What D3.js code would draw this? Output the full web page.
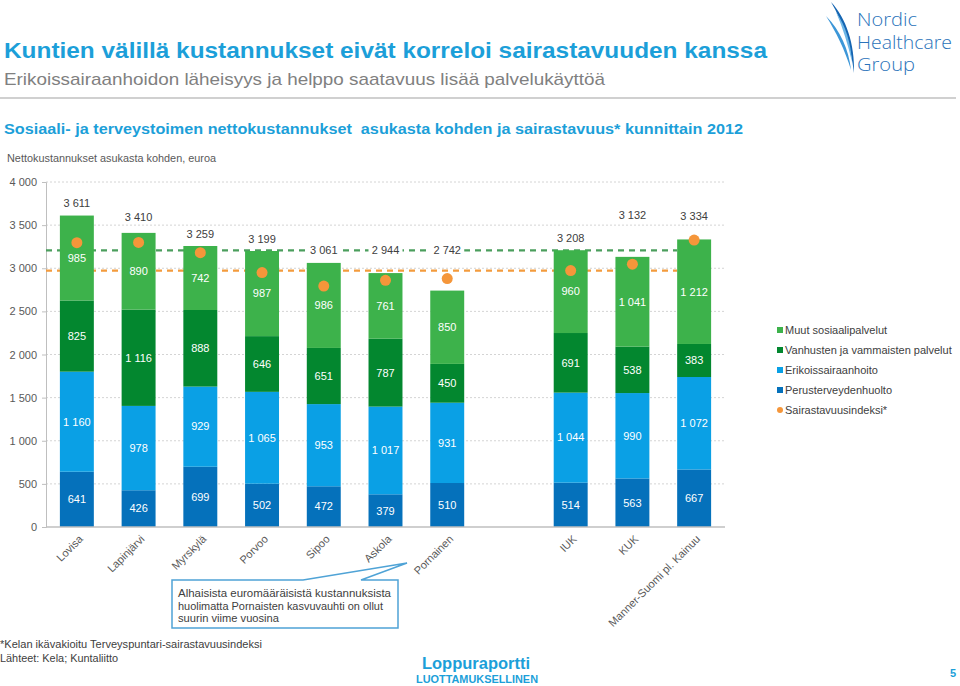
<!DOCTYPE html>
<html><head><meta charset="utf-8">
<script src="https://cdn.jsdelivr.net/npm/d3@7"></script>
<style>
html,body{margin:0;padding:0;background:#fff;}
svg{display:block;font-family:"Liberation Sans",Arial,sans-serif;}
</style></head>
<body>
<svg id="chart" width="960" height="686"></svg>
<script>
// ---------- DATA ----------
const categories = ["Lovisa","Lapinjärvi","Myrskylä","Porvoo","Sipoo","Askola","Pornainen","IUK","KUK","Manner-Suomi pl. Kainuu"];
const perusterveydenhuolto = [641,426,699,502,472,379,510,514,563,667];
const erikoissairaanhoito  = [1160,978,929,1065,953,1017,931,1044,990,1072];
const vanhustenPalvelut    = [825,1116,888,646,651,787,450,691,538,383];
const muutSosiaalipalvelut = [985,890,742,987,986,761,850,960,1041,1212];
const totals               = [3611,3410,3259,3199,3061,2944,2742,3208,3132,3334];
const sairastavuusindeksi  = [98.9,99.0,95.4,88.5,83.8,85.8,86.4,89.2,91.4,99.8];
const yTicks = [0,500,1000,1500,2000,2500,3000,3500,4000];
const seriesNames = ["Perusterveydenhuolto","Erikoissairaanhoito","Vanhusten ja vammaisten palvelut","Muut sosiaalipalvelut"];
const legendNames = ["Muut sosiaalipalvelut","Vanhusten ja vammaisten palvelut","Erikoissairaanhoito","Perusterveydenhuolto","Sairastavuusindeksi*"];
const referenceCategory = "IUK";

// ---------- STYLE ----------
const colors = {
  "Perusterveydenhuolto":"#0571BB",
  "Erikoissairaanhoito":"#0AA0E5",
  "Vanhusten ja vammaisten palvelut":"#03872F",
  "Muut sosiaalipalvelut":"#3DB24B"
};
const dotColor = "#F5963A";
const blue = "#1C9FD9";
const textGrey = "#595959";

const svg = d3.select("#chart");
const fmt = d3.formatLocale({decimal:",",thousands:"\u00a0",grouping:[3],currency:["","€"]}).format(",d");

// ---------- HEADER ----------
svg.append("text").attr("x",4).attr("y",58).attr("font-size",22).attr("font-weight","bold")
  .attr("fill",blue).attr("textLength",763).attr("lengthAdjust","spacingAndGlyphs")
  .text("Kuntien välillä kustannukset eivät korreloi sairastavuuden kanssa");
svg.append("text").attr("x",4).attr("y",85).attr("font-size",17).attr("fill","#808080")
  .attr("textLength",601).attr("lengthAdjust","spacingAndGlyphs")
  .text("Erikoissairaanhoidon läheisyys ja helppo saatavuus lisää palvelukäyttöä");
svg.append("rect").attr("x",0).attr("y",97).attr("width",956).attr("height",2).attr("fill","#D0D0D0");
svg.append("text").attr("x",4).attr("y",134).attr("font-size",14.5).attr("font-weight","bold")
  .attr("fill",blue).attr("textLength",739).attr("lengthAdjust","spacingAndGlyphs")
  .attr("xml:space","preserve")
  .text("Sosiaali- ja terveystoimen nettokustannukset\u00a0 asukasta kohden ja sairastavuus* kunnittain 2012");
svg.append("text").attr("x",7).attr("y",162).attr("font-size",10.5).attr("fill",textGrey)
  .attr("textLength",209).attr("lengthAdjust","spacingAndGlyphs")
  .text("Nettokustannukset asukasta kohden, euroa");

// Logo
const logo = svg.append("g");
logo.append("path").attr("d","M831,2 C846,18 855,44 854,73 C851,47 843,22 831,2 Z").attr("fill","#1565B2");
logo.append("path").attr("d","M826,16 C840,30 849,50 851,70 C845,50 836,32 826,16 Z").attr("fill","#3D97D8");
logo.append("path").attr("d","M836,12 C846,26 851,44 852,62 C848,45 843,28 836,12 Z").attr("fill","#6DB6E6");
["Nordic","Healthcare","Group"].forEach((t,i)=>{
  logo.append("text").attr("x",857).attr("y",26+i*22.5).attr("font-size",18.5).attr("fill","#2A73BA")
    .attr("font-family","'Open Sans','Liberation Sans',sans-serif").attr("font-weight",300)
    .attr("textLength",[60,95,58][i]).attr("lengthAdjust","spacingAndGlyphs").text(t);
});

// ---------- CHART ----------
const plotLeft = 46, plotRight = 725, plotTop = 182, plotBottom = 527;
const domain = categories.slice(0,7).concat(["__gap"]).concat(categories.slice(7));
const x = d3.scaleBand().domain(domain).range([plotLeft,plotRight]).paddingInner(0.45).paddingOuter(0.225);
const y = d3.scaleLinear().domain([0,4000]).range([plotBottom,plotTop]);
const ySec = d3.scaleLinear().domain([0,120]).range([plotBottom,plotTop]);

// gridlines
svg.append("g").selectAll("line").data(yTicks.filter(d=>d>0)).join("line")
  .attr("x1",plotLeft).attr("x2",plotRight).attr("y1",d=>y(d)).attr("y2",d=>y(d))
  .attr("stroke","#D4D4D4").attr("stroke-width",1).attr("stroke-dasharray","2,2");

// y axis
const yAxis = svg.append("g").attr("transform",`translate(${plotLeft},0)`)
  .call(d3.axisLeft(y).tickValues(yTicks).tickFormat(fmt).tickSize(4).tickPadding(5));
yAxis.select(".domain").attr("stroke","#BFBFBF");
yAxis.selectAll(".tick line").attr("stroke","#BFBFBF");
yAxis.selectAll("text").attr("font-size",11).attr("fill",textGrey).attr("font-family","'Liberation Sans',Arial,sans-serif");

// reference dashed lines (IUK level)
const refIdx = categories.indexOf(referenceCategory);
const lastX = x(categories[categories.length-1]);
svg.append("line").attr("x1",plotLeft).attr("x2",lastX)
  .attr("y1",y(totals[refIdx])).attr("y2",y(totals[refIdx]))
  .attr("stroke","#4B9E5D").attr("stroke-width",2.2).attr("stroke-dasharray","6,5");
svg.append("line").attr("x1",plotLeft).attr("x2",lastX)
  .attr("y1",ySec(sairastavuusindeksi[refIdx])).attr("y2",ySec(sairastavuusindeksi[refIdx]))
  .attr("stroke","#F39B3D").attr("stroke-width",2.2).attr("stroke-dasharray","6,5");

// stacked bars
const rows = categories.map((c,i)=>({
  cat:c,
  "Perusterveydenhuolto":perusterveydenhuolto[i],
  "Erikoissairaanhoito":erikoissairaanhoito[i],
  "Vanhusten ja vammaisten palvelut":vanhustenPalvelut[i],
  "Muut sosiaalipalvelut":muutSosiaalipalvelut[i]
}));
const stacked = d3.stack().keys(seriesNames)(rows);
const layers = svg.append("g").selectAll("g").data(stacked).join("g").attr("fill",d=>colors[d.key]);
layers.selectAll("rect").data(d=>d).join("rect")
  .attr("x",d=>x(d.data.cat)).attr("width",x.bandwidth())
  .attr("y",d=>y(d[1])).attr("height",d=>y(d[0])-y(d[1]));
layers.selectAll("text").data(d=>d).join("text")
  .attr("x",d=>x(d.data.cat)+x.bandwidth()/2).attr("y",d=>(y(d[0])+y(d[1]))/2)
  .attr("dy","0.35em").attr("text-anchor","middle").attr("font-size",11).attr("fill","#fff")
  .text(d=>fmt(d[1]-d[0]));

// x axis line
svg.append("line").attr("x1",plotLeft).attr("x2",plotRight).attr("y1",plotBottom).attr("y2",plotBottom)
  .attr("stroke","#BFBFBF").attr("stroke-width",1.5);

// total labels
const refY = y(totals[refIdx]);
const labelNudge = {"KUK":-30,"Manner-Suomi pl. Kainuu":-11,"Lapinjärvi":-4};
const tl = svg.append("g").selectAll("g").data(categories).join("g")
  .attr("transform",(c,i)=>{
    let ly = Math.min(y(totals[i])-12, refY);
    ly += (labelNudge[c]||0);
    return `translate(${x(c)+x.bandwidth()/2},${ly})`;
  });
tl.append("rect").attr("x",-17).attr("y",-7).attr("width",34).attr("height",14).attr("fill","#fff");
tl.append("text").attr("text-anchor","middle").attr("dy","0.35em").attr("font-size",11).attr("fill","#404040")
  .text((c,i)=>fmt(totals[i]));

// dots
svg.append("g").selectAll("circle").data(categories).join("circle")
  .attr("cx",c=>x(c)+x.bandwidth()/2).attr("cy",(c,i)=>ySec(sairastavuusindeksi[i]))
  .attr("r",5.5).attr("fill",dotColor);

// x labels
svg.append("g").selectAll("text").data(categories).join("text")
  .attr("transform",c=>`translate(${x(c)+x.bandwidth()/2+4},${plotBottom+10}) rotate(-45)`)
  .attr("text-anchor","end").attr("dy","0.35em").attr("font-size",11).attr("fill",textGrey)
  .text(c=>c);

// legend
const lg = svg.append("g").attr("transform","translate(777,330)");
legendNames.forEach((n,i)=>{
  const g = lg.append("g").attr("transform",`translate(0,${i*20})`);
  if (colors[n]) g.append("rect").attr("x",0).attr("y",-3).attr("width",6).attr("height",6).attr("fill",colors[n]);
  else g.append("circle").attr("cx",3).attr("cy",0).attr("r",3).attr("fill",dotColor);
  g.append("text").attr("x",8).attr("dy","0.35em").attr("font-size",11).attr("fill","#404040").text(n);
});

// callout
const co = svg.append("g");
co.append("path").attr("d","M172,580 L303,580 L407,563 L361,580 L398,580 L398,628 L172,628 Z")
  .attr("fill","#fff").attr("stroke","#4FA3D6").attr("stroke-width",1.5);
const coLines = ["Alhaisista euromääräisistä kustannuksista","huolimatta Pornaisten kasvuvauhti on ollut","suurin viime vuosina"];
const coLens = [213,205,101];
coLines.forEach((t,i)=>{
  co.append("text").attr("x",178).attr("y",597+i*12.5).attr("font-size",10.5).attr("fill","#404040")
    .attr("textLength",coLens[i]).attr("lengthAdjust","spacingAndGlyphs").text(t);
});

// footer
svg.append("text").attr("x",0).attr("y",648).attr("font-size",11).attr("fill","#404040")
  .attr("textLength",262).attr("lengthAdjust","spacingAndGlyphs").text("*Kelan ikävakioitu Terveyspuntari-sairastavuusindeksi");
svg.append("text").attr("x",0).attr("y",662).attr("font-size",11).attr("fill","#404040")
  .attr("textLength",118).attr("lengthAdjust","spacingAndGlyphs").text("Lähteet: Kela; Kuntaliitto");
svg.append("text").attr("x",476).attr("y",669).attr("text-anchor","middle").attr("font-size",16.5)
  .attr("font-weight","bold").attr("fill",blue).text("Loppuraportti");
svg.append("text").attr("x",477).attr("y",683).attr("text-anchor","middle").attr("font-size",11)
  .attr("font-weight","bold").attr("fill",blue).attr("textLength",122).attr("lengthAdjust","spacingAndGlyphs").text("LUOTTAMUKSELLINEN");
svg.append("text").attr("x",953).attr("y",677).attr("text-anchor","middle").attr("font-size",11)
  .attr("font-weight","bold").attr("fill",blue).text("5");
</script>
</body></html>
